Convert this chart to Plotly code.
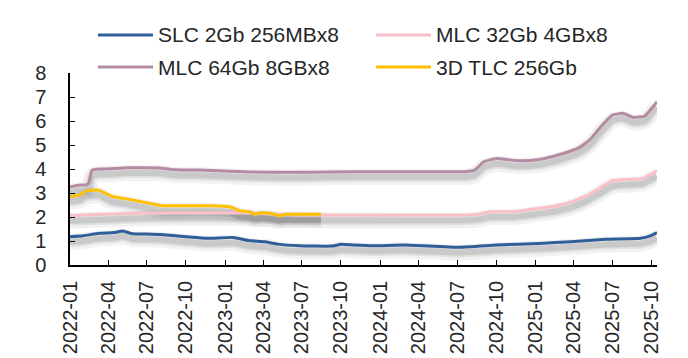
import plotly.graph_objects as go

# Series data (USD per unit)
slc_dates = ["2022-01-01", "2022-02-01", "2022-03-10", "2022-04-15", "2022-05-05", "2022-05-28",
             "2022-07-01", "2022-08-01", "2022-10-01", "2022-11-20", "2023-01-20", "2023-02-25",
             "2023-04-05", "2023-05-05", "2023-06-25", "2023-09-10", "2023-10-01", "2023-11-01",
             "2023-12-15", "2024-03-01", "2024-07-05", "2024-10-01", "2025-01-10", "2025-03-25",
             "2025-06-15", "2025-09-05", "2025-09-28", "2025-10-14"]
slc_vals = [1.18, 1.22, 1.32, 1.35, 1.42, 1.30, 1.29, 1.27, 1.18, 1.11, 1.15, 1.02,
            0.97, 0.87, 0.80, 0.79, 0.86, 0.83, 0.80, 0.83, 0.74, 0.83, 0.90, 0.97,
            1.07, 1.11, 1.21, 1.35]

mlc32_dates = ["2022-01-01", "2022-03-01", "2022-05-01", "2022-07-01", "2023-01-01", "2023-03-01",
               "2023-05-01", "2023-07-01", "2024-07-25", "2024-08-20", "2024-09-15", "2024-11-10",
               "2025-01-10", "2025-02-20", "2025-03-28", "2025-05-05", "2025-06-01", "2025-07-01",
               "2025-08-10", "2025-09-10", "2025-10-14"]
mlc32_vals = [2.06, 2.10, 2.14, 2.17, 2.18, 2.17, 2.12, 2.08, 2.08, 2.12, 2.22, 2.22,
              2.36, 2.47, 2.64, 2.92, 3.20, 3.51, 3.57, 3.61, 3.93]

mlc64_dates = ["2022-01-01", "2022-01-20", "2022-02-10", "2022-02-15", "2022-02-22", "2022-03-15",
               "2022-04-15", "2022-05-15", "2022-07-01", "2022-08-01", "2022-09-01", "2022-11-01",
               "2023-01-01", "2023-03-01", "2023-06-01", "2023-09-01", "2024-01-01", "2024-07-20",
               "2024-08-10", "2024-09-01", "2024-10-01", "2024-11-01", "2024-12-01", "2025-01-10",
               "2025-02-15", "2025-03-25", "2025-04-15", "2025-05-10", "2025-06-05", "2025-07-01",
               "2025-07-25", "2025-08-20", "2025-09-15", "2025-10-14"]
mlc64_vals = [3.25, 3.32, 3.35, 3.45, 3.95, 4.00, 4.02, 4.05, 4.05, 4.04, 3.97, 3.96,
              3.92, 3.88, 3.86, 3.88, 3.89, 3.89, 3.95, 4.30, 4.44, 4.38, 4.34, 4.40,
              4.54, 4.75, 4.90, 5.24, 5.79, 6.25, 6.32, 6.15, 6.21, 6.80]

tlc_dates = ["2022-01-01", "2022-01-25", "2022-02-07", "2022-03-10", "2022-03-25", "2022-04-12",
             "2022-05-05", "2022-05-28", "2022-07-07", "2022-08-07", "2022-12-01", "2023-01-12",
             "2023-02-05", "2023-03-01", "2023-03-12", "2023-03-25", "2023-04-20", "2023-05-07",
             "2023-05-25", "2023-08-15"]
tlc_vals = [2.85, 2.92, 3.08, 3.12, 2.99, 2.85, 2.78, 2.71, 2.57, 2.47, 2.47, 2.43,
            2.26, 2.22, 2.11, 2.18, 2.15, 2.05, 2.11, 2.11]

series_names = ["SLC 2Gb 256MBx8", "MLC 32Gb 4GBx8", "MLC 64Gb 8GBx8", "3D TLC 256Gb"]
series_dates = [slc_dates, mlc32_dates, mlc64_dates, tlc_dates]
series_vals = [slc_vals, mlc32_vals, mlc64_vals, tlc_vals]
series_colors = ["#2F5F98", "#FBBFC8", "#B48BA3", "#FFC000"]

x_ticks = ["2022-01-01", "2022-04-01", "2022-07-01", "2022-10-01", "2023-01-01", "2023-04-01",
           "2023-07-01", "2023-10-01", "2024-01-01", "2024-04-01", "2024-07-01", "2024-10-01",
           "2025-01-01", "2025-04-01", "2025-07-01", "2025-10-01"]
y_ticks = [0, 1, 2, 3, 4, 5, 6, 7, 8]

W, H = 688, 358
L, R, T, B = 70, 31, 73, 93
FONT = "Arial, Liberation Sans, sans-serif"
TEXT = "#262626"

fig = go.Figure()

# soft drop shadow under each line (drawn on a hidden, slightly shifted axis)
for dates, vals in zip(series_dates, series_vals):
    for w, a in [(16, 0.05), (10, 0.075), (6, 0.1)]:
        fig.add_trace(go.Scatter(x=dates, y=vals, mode="lines", yaxis="y",
                                 line=dict(color=f"rgba(0,0,0,{a})", width=w, shape="spline",
                                           smoothing=0.4),
                                 hoverinfo="skip", showlegend=False))

for name, dates, vals, color in zip(series_names, series_dates, series_vals, series_colors):
    fig.add_trace(go.Scatter(x=dates, y=vals, mode="lines", name=name, yaxis="y2",
                             line=dict(color=color, width=3, shape="spline", smoothing=0.4),
                             showlegend=False))

# legend drawn as line samples + labels above the plot area
pw, ph = W - L - R, H - T - B


def px_x(p):
    return (p - L) / pw


def px_y(p):
    return (H - B - p) / ph


legend_pos = [(98, 35), (376, 35), (98, 67), (376, 67)]
shapes = []
annotations = []
for (lx, ly), name, color in zip(legend_pos, series_names, series_colors):
    shapes.append(dict(type="line", xref="paper", yref="paper",
                       x0=px_x(lx), x1=px_x(lx + 55), y0=px_y(ly), y1=px_y(ly),
                       line=dict(color=color, width=3)))
    annotations.append(dict(xref="paper", yref="paper", x=px_x(lx + 58), y=px_y(ly),
                            xanchor="left", yanchor="middle", showarrow=False, text=name,
                            font=dict(family=FONT, size=21, color=TEXT)))

fig.update_layout(
    width=W, height=H,
    margin=dict(l=L, r=R, t=T, b=B, autoexpand=False),
    paper_bgcolor="white", plot_bgcolor="white",
    showlegend=False,
    shapes=shapes, annotations=annotations,
    xaxis=dict(type="date", range=["2022-01-01", "2025-10-14"], automargin=False,
               tickvals=x_ticks, tickformat="%Y-%m", tickangle=-90,
               showgrid=False, zeroline=False, showline=True, linecolor="black", linewidth=1.5,
               ticks="inside", ticklen=5, tickcolor="black", tickwidth=1.2,
               ticklabelstandoff=6,
               tickfont=dict(family=FONT, size=20, color=TEXT)),
    yaxis=dict(range=[0.22, 8.22], visible=False, showgrid=False, zeroline=False, fixedrange=True),
    yaxis2=dict(range=[0, 8], overlaying="y", side="left", tickvals=y_ticks, automargin=False,
                showgrid=False, zeroline=False, showline=True, linecolor="black", linewidth=1.5,
                ticks="inside", ticklen=5, tickcolor="black", tickwidth=1.2,
                ticklabelstandoff=18,
                tickfont=dict(family=FONT, size=20, color=TEXT)),
)

fig.write_html("out.html")
